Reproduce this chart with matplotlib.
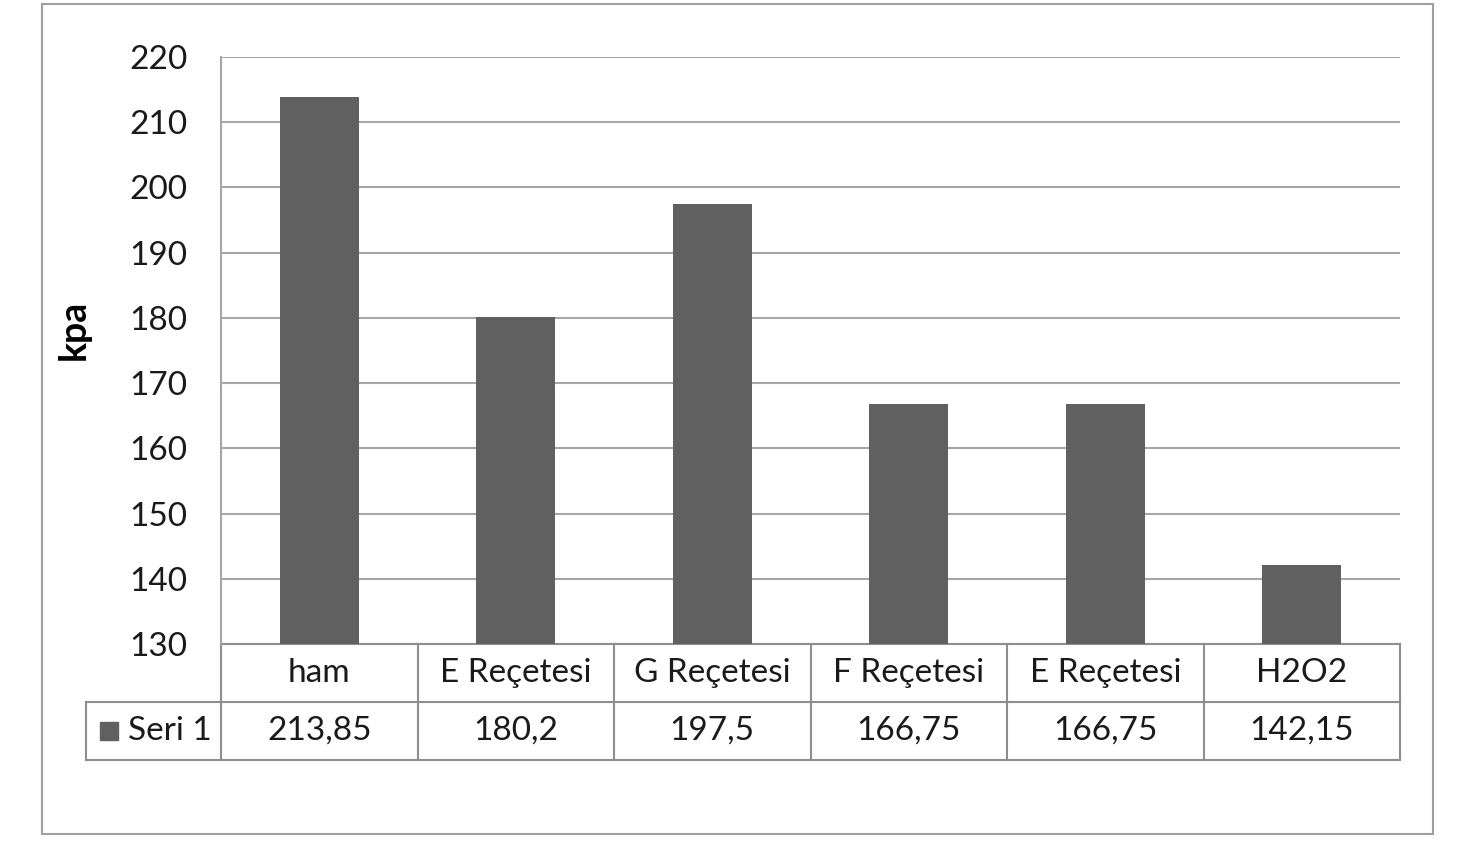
import matplotlib
matplotlib.use("Agg")
import matplotlib.pyplot as plt
from matplotlib.patches import Rectangle
from matplotlib.lines import Line2D
import matplotlib.transforms as mtransforms

# -------- data --------
categories = ["ham", "E Reçetesi", "G Reçetesi", "F Reçetesi", "E Reçetesi", "H2O2"]
values     = [213.85, 180.2, 197.5, 166.75, 166.75, 142.15]
value_text = ["213,85", "180,2", "197,5", "166,75", "166,75", "142,15"]
series_name = "Seri 1"
y_ticks    = [130, 140, 150, 160, 170, 180, 190, 200, 210, 220]
y_label    = "kpa"
# ----------------------

W, H = 1461, 863
BAR_COLOR  = "#606060"
GRID_COLOR = "#a6a6a6"
LINE_COLOR = "#8e8e8e"
TEXT_COLOR = "#1a1a1a"
FONT = "Lato"
FS = 24

fig = plt.figure(figsize=(W / 100, H / 100), dpi=100)

def px(x, y):
    # pixel (from top-left) -> figure fraction
    return x / W, 1 - y / H

# outer chart border
x0, y0 = px(42, 834)
x1, y1 = px(1433, 4)
fig.patches.append(Rectangle((x0, y0), x1 - x0, y1 - y0, transform=fig.transFigure,
                             fill=False, edgecolor="#a0a0a0", linewidth=1.5))

# plot area
left, top, right, bottom = 221, 57, 1400, 644
ax = fig.add_axes([left / W, 1 - bottom / H, (right - left) / W, (bottom - top) / H])

n = len(categories)
xs = list(range(n))
ax.bar(xs, [v - y_ticks[0] for v in values], bottom=y_ticks[0], width=0.4,
       color=BAR_COLOR, zorder=3)

ax.set_xlim(-0.5, n - 0.5)
ax.set_ylim(y_ticks[0], y_ticks[-1])
ax.set_yticks(y_ticks)
ax.set_yticklabels([str(t) for t in y_ticks], fontfamily=FONT, fontsize=FS,
                   color=TEXT_COLOR)
ax.tick_params(axis="y", length=0, pad=24)
ax.set_xticks([])
ax.yaxis.grid(True, color=GRID_COLOR, linewidth=1.5, zorder=0)
for side in ["top", "right", "bottom"]:
    ax.spines[side].set_visible(False)
ax.spines["left"].set_color(GRID_COLOR)
ax.spines["left"].set_linewidth(1.5)

fig.text(74 / W, 1 - 330 / H, y_label, rotation=90, ha="center", va="center",
         fontfamily=FONT, fontweight="bold", fontsize=27, color="black")

# data table under the axis: x in data units, y in axes fraction
plot_h = bottom - top
row_h = 58 / plot_h
trans = mtransforms.blended_transform_factory(ax.transData, ax.transAxes)
label_left = (86 - left) / (right - left)

def hline(xa, xb, y, tr):
    ax.add_line(Line2D([xa, xb], [y, y], transform=tr, color=LINE_COLOR,
                       linewidth=1.5, clip_on=False))

def vline(x, ya, yb, tr):
    ax.add_line(Line2D([x, x], [ya, yb], transform=tr, color=LINE_COLOR,
                       linewidth=1.5, clip_on=False))

hline(-0.5, n - 0.5, 0, trans)
hline(label_left, 1, -row_h, ax.transAxes)
hline(label_left, 1, -2 * row_h, ax.transAxes)
for i in range(n + 1):
    vline(i - 0.5, 0, -2 * row_h, trans)
vline(label_left, -row_h, -2 * row_h, ax.transAxes)

for i, (cat, txt) in enumerate(zip(categories, value_text)):
    ax.text(i, -row_h * 0.5, cat, transform=trans, ha="center", va="center",
            fontfamily=FONT, fontsize=FS, color=TEXT_COLOR, clip_on=False)
    ax.text(i, -row_h * 1.5, txt, transform=trans, ha="center", va="center",
            fontfamily=FONT, fontsize=FS, color=TEXT_COLOR, clip_on=False)

# legend key inside the row header cell
key_x = (100 - left) / (right - left)
key_w = 18 / (right - left)
key_h = 18 / plot_h
ax.add_patch(Rectangle((key_x, -row_h * 1.5 - key_h / 2), key_w, key_h,
                       transform=ax.transAxes, color=BAR_COLOR, clip_on=False))
ax.text((128 - left) / (right - left), -row_h * 1.5, series_name, transform=ax.transAxes,
        ha="left", va="center", fontfamily=FONT, fontsize=FS, color=TEXT_COLOR,
        clip_on=False)

fig.savefig("out.png", dpi=100, facecolor="white")
